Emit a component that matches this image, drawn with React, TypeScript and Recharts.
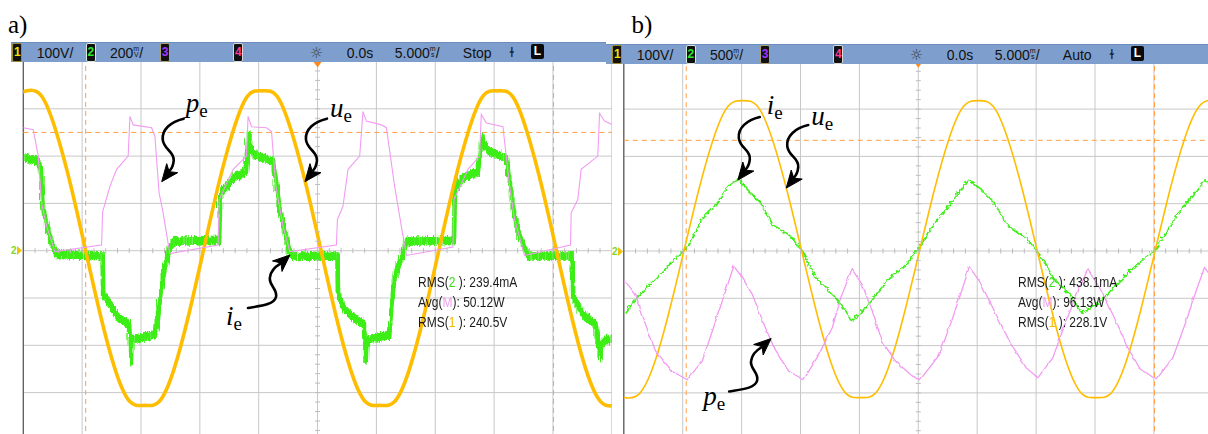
import React from 'react'
import { LineChart, Line, XAxis, YAxis, CartesianGrid, ReferenceLine, ReferenceDot } from 'recharts'

// scope screen: 5 ms/div, trigger at 0, 10 divisions across
const timeTicks = [-25, -20, -15, -10, -5, 0, 5, 10, 15, 20, 25]
// channel 1 at 100 V/div, 8 divisions high
const voltTicks = [-400, -300, -200, -100, 0, 100, 200, 300, 400]

// a) supply voltage u_e (V)
const uaTime = [-25.95, -24.7, -23.45, -22.2, -20.95, -19.7, -18.45, -17.2, -15.95, -14.7, -13.45, -12.2, -10.95, -9.7, -8.45, -7.2, -5.95, -4.7, -3.45, -2.2, -0.95, 0.3, 1.55, 2.8, 4.05, 5.3, 6.55, 7.8, 9.05, 10.3, 11.55, 12.8, 14.05, 15.3, 16.55, 17.8, 19.05, 20.3, 21.55, 22.8, 24.05, 25.3]
const uaVolt = [327, 338, 327, 251, 136, 0, -136, -251, -319, -327, -319, -251, -136, 0, 136, 251, 327, 338, 327, 251, 136, 0, -136, -251, -319, -327, -319, -251, -136, 0, 136, 251, 327, 338, 327, 251, 136, 0, -136, -251, -319, -327]

// a) current i_e (mA), 200 mA/div
const iaTime = [-25, -23.9, -23.6, -23.45, -23.15, -22.75, -22.3, -18.35, -18.3, -17.9, -17.05, -16.1, -15.95, -15.9, -15.85, -13.95, -13.7, -13.4, -13.1, -12.7, -12.25, -8.45, -8.35, -8.0, -7.15, -6.2, -5.9, -5.8, -5.5, -3.9, -3.55, -3.35, -2.95, -2.5, -2.2, 1.6, 1.65, 2.05, 3.0, 3.85, 4.0, 4.05, 4.15, 6.0, 6.25, 6.55, 7.0, 7.4, 7.55, 11.5, 11.6, 12.2, 13.5, 13.9, 14.0, 14.45, 15.9, 16.3, 16.6, 17.0, 17.6, 17.75, 21.5, 21.55, 22.4, 23.5, 23.95, 24.0, 24.4, 25.5]
const iaCurr = [398, 386, 350, 186, 116, 46, -10, -16, -180, -208, -278, -306, -468, -376, -370, -350, -294, -152, -68, 16, 46, 50, 242, 270, 320, 340, 504, 440, 412, 384, 270, 186, 100, 2, -18, -16, -180, -236, -280, -306, -460, -390, -370, -350, -180, -82, -26, 38, 46, 50, 270, 312, 340, 490, 454, 426, 398, 270, 158, 74, 2, -16, -16, -180, -264, -306, -450, -390, -370, -360]

// a) power p_e (W), math channel
const paTime = [-25, -24.15, -23.73, -23.44, -23.02, -22.31, -18.35, -18.26, -17.64, -17.07, -16.09, -15.94, -15.66, -14.1, -13.82, -13.46, -13.12, -12.55, -8.45, -8.36, -7.73, -7.17, -6.04, -5.9, -5.61, -4.34, -3.91, -3.55, -2.93, -2.36, 1.6, 1.69, 2.16, 2.59, 3.58, 3.86, 4.15, 5.42, 5.85, 6.55, 6.98, 7.55, 11.5, 11.59, 12.78, 13.77, 13.91, 14.34, 15.75, 16.32, 16.74, 17.59, 21.49, 21.55, 22.11, 22.4, 23.81, 23.96, 24.38, 25.5]
const paPow = [130, 128, 100, 50, 26, -1, 6, 41, 68, 86, 100, 142, 133, 130, 121, 61, 40, -3, 6, 54, 71, 86, 100, 142, 131, 130, 126, 68, 26, -1, 6, 33, 47, 86, 100, 147, 137, 133, 130, 68, 36, -5, 4, 54, 86, 100, 144, 135, 131, 68, 33, -5, 6, 40, 54, 86, 100, 145, 137, 131]

// b) supply voltage u_e (V)
const ubTime = [-26.15, -24.9, -23.65, -22.4, -21.15, -19.9, -18.65, -17.4, -16.15, -14.9, -13.65, -12.4, -11.15, -9.9, -8.65, -7.4, -6.15, -4.9, -3.65, -2.4, -1.15, 0.1, 1.35, 2.6, 3.85, 5.1, 6.35, 7.6, 8.85, 10.1, 11.35, 12.6, 13.85, 15.1, 16.35, 17.6, 18.85, 20.1, 21.35, 22.6, 23.85, 25.1, 26.35]
const ubVolt = [-301, -310, -301, -237, -128, 0, 128, 237, 306, 318, 306, 237, 128, 0, -128, -237, -301, -310, -301, -237, -128, 0, 128, 237, 306, 318, 306, 237, 128, 0, -128, -237, -301, -310, -301, -237, -128, 0, 128, 237, 306, 318, 306]

// b) current i_e (mA), 500 mA/div
const ibTime = [-25, -24.06, -22.36, -20.98, -19.7, -18.43, -17.3, -16.17, -15.37, -14.75, -13.62, -12.49, -11.08, -9.94, -8.81, -7.39, -6.26, -5.84, -5.14, -4.0, -2.59, -1.17, 0.02, 1.15, 2.56, 4.12, 5.11, 6.24, 7.38, 9.08, 10.2, 11.33, 12.75, 13.74, 15.02, 16.43, 18.12, 20.11, 21.81, 23.22, 24.21, 24.64, 25.2]
const ibCurr = [-640, -485, -270, -95, 65, 365, 505, 715, 785, 680, 540, 295, 185, 10, -270, -445, -625, -730, -660, -485, -270, -130, 65, 295, 505, 770, 680, 540, 295, 150, -25, -270, -445, -640, -555, -375, -165, 45, 395, 610, 770, 715, 700]

// b) power p_e (W)
const pbTime = [-25, -24.09, -23.24, -22.39, -20.98, -19.7, -18.43, -17.58, -16.73, -15.75, -15.03, -14.19, -13.06, -12.21, -11.08, -9.81, -8.53, -7.39, -6.55, -5.7, -4.85, -4.0, -3.15, -2.02, -0.6, 0.08, 1.71, 2.84, 3.69, 4.26, 5.11, 6.24, 7.66, 9.08, 10.06, 11.33, 12.47, 13.6, 14.3, 15.3, 16.43, 17.56, 18.69, 20.11, 21.52, 22.66, 23.51, 24.21, 24.64, 25.2]
const pbPow = [209, 181, 117, 61, 18, 0, 39, 102, 166, 240, 216, 181, 110, 61, 18, 0, 53, 110, 181, 233, 201, 145, 81, 39, 8, 0, 53, 131, 195, 238, 208, 152, 81, 25, 4, 46, 124, 195, 233, 195, 138, 74, 25, 0, 46, 124, 188, 237, 223, 215]

// on-screen measurements
const readA = ['239.4mA', '50.12W', '240.5V']
const readB = ['438.1mA', '96.13W', '228.1V']

const minorT = Array.from({ length: 49 }, (_, k) => -24 + k)
const minorV = Array.from({ length: 39 }, (_, k) => -380 + k * 20)

const zip = (ts: number[], vs: number[], key: string) => ts.map((t, k) => ({ t, [key]: vs[k] }))

const ORANGE = '#ffbd00'
const GREEN = '#3cee16'
const PINK = '#f29bf2'
const CURSOR = '#ff9f45'
const SERIF = "'Liberation Serif', 'Times New Roman', serif"
const SANS = "'Liberation Sans', Arial, sans-serif"

type Note = { t: number; v: number; sym: string; dir: 'down' | 'up'; dx: number; dy: number }

const notesA: Note[] = [
  { t: -13.24, v: 146, sym: 'p', dir: 'down', dx: 24, dy: -70 },
  { t: -1.07, v: 146, sym: 'u', dir: 'down', dx: 25, dy: -65 },
  { t: -2.34, v: -9, sym: 'i', dir: 'up', dx: -64, dy: 70 },
]
const notesB: Note[] = [
  { t: -15.32, v: 150, sym: 'i', dir: 'down', dx: 29, dy: -66 },
  { t: -11.21, v: 133, sym: 'u', dir: 'down', dx: 25, dy: -63 },
  { t: -12.49, v: -185, sym: 'p', dir: 'up', dx: -68, dy: 66 },
]

const noteShape = (n: Note) => (props: any) => {
  const { cx, cy } = props
  const down = n.dir === 'down'
  const shaft = down
    ? 'M22,-63 C9,-60 0,-52 1,-42 C2,-32 13,-30 12,-21 C11.5,-16 10,-13 8,-11'
    : 'M-42,53 C-30,51 -16,50 -14,42 C-12,34 -22,30 -20,22 C-19,16 -15,12 -10,9'
  const head = down ? 'M0,0 L5,-18 L7.5,-10 L16,-9 Z' : 'M0,0 L-8,16.5 L-9,8 L-17.5,6 Z'
  return (
    <g transform={`translate(${cx},${cy})`}>
      <path d={shaft} fill="none" stroke="#000" strokeWidth={2.6} strokeLinecap="round" />
      <path d={head} fill="#000" stroke="#000" strokeWidth={1} strokeLinejoin="round" />
      <text x={n.dx} y={n.dy} fontFamily={SERIF} fontSize={27} fontStyle="italic" fill="#000">
        {n.sym}
        <tspan fontStyle="normal" fontSize={19} dy={5}>e</tspan>
      </text>
    </g>
  )
}

const hTick = (props: any) => (
  <line x1={props.cx} x2={props.cx} y1={props.cy - 2.5} y2={props.cy + 2.5} stroke="#bdbdbd" strokeWidth={1} />
)
const vTick = (props: any) => (
  <line x1={props.cx - 2.5} x2={props.cx + 2.5} y1={props.cy} y2={props.cy} stroke="#bdbdbd" strokeWidth={1} />
)
const trigMark = (props: any) => (
  <path d={`M${props.cx - 5},${props.cy - 1} L${props.cx + 5},${props.cy - 1} L${props.cx},${props.cy + 6} Z`} fill="#ff8a1c" />
)

type ScopeProps = {
  left: number
  width: number
  marginLeft: number
  marginRight: number
  plotTop: number
  u: any[]
  i: any[]
  p: any[]
  iDomain: number[]
  pDomain: number[]
  uWidth: number
  iWidth: number
  pWidth: number
  iFilter: string
  pFilter?: string
  hCursor: number
  notes: Note[]
}

function Scope(s: ScopeProps) {
  const h = 441
  return (
    <div style={{ position: 'absolute', left: s.left, top: 0, width: s.width, height: h, background: '#fff' }}>
      <LineChart
        width={s.width}
        height={h}
        margin={{ top: s.plotTop, right: s.marginRight, bottom: h - s.plotTop - 378.4, left: s.marginLeft }}
      >
        <XAxis type="number" dataKey="t" domain={[-25, 25]} ticks={timeTicks} hide allowDataOverflow />
        <YAxis type="number" domain={[-400, 400]} ticks={voltTicks} hide allowDataOverflow />
        <YAxis yAxisId="i" type="number" domain={s.iDomain} hide allowDataOverflow />
        <YAxis yAxisId="p" type="number" domain={s.pDomain} hide allowDataOverflow />
        <CartesianGrid stroke="#c8c8c8" strokeWidth={1} />
        <ReferenceLine x={-25} stroke="#555" strokeWidth={1.2} />
        {minorT.map((t) => (
          <ReferenceDot key={'mt' + t} x={t} y={0} shape={hTick} ifOverflow="visible" />
        ))}
        {minorV.map((v) => (
          <ReferenceDot key={'mv' + v} x={0} y={v} shape={vTick} ifOverflow="visible" />
        ))}
        <ReferenceLine x={-19.7} stroke={CURSOR} strokeDasharray="5 4" />
        <ReferenceLine x={20.05} stroke={CURSOR} strokeDasharray="5 4" />
        <ReferenceLine y={s.hCursor} stroke={CURSOR} strokeDasharray="5 4" />
        <Line data={s.i} dataKey="i" yAxisId="i" type="linear" stroke={GREEN} strokeWidth={s.iWidth} filter={s.iFilter} dot={false} isAnimationActive={false} />
        <Line data={s.u} dataKey="u" type="natural" stroke={ORANGE} strokeWidth={s.uWidth} dot={false} isAnimationActive={false} />
        <Line data={s.p} dataKey="p" yAxisId="p" type="linear" stroke={PINK} strokeWidth={s.pWidth} filter={s.pFilter} dot={false} isAnimationActive={false} />
        <ReferenceDot x={0} y={400} shape={trigMark} ifOverflow="visible" />
        {s.notes.map((n) => (
          <ReferenceDot key={n.sym} x={n.t} y={n.v} shape={noteShape(n)} ifOverflow="visible" />
        ))}
      </LineChart>
    </div>
  )
}

function ChBox({ x, n, color, edge }: { x: number; n: string; color: string; edge: string }) {
  return (
    <div
      style={{
        position: 'absolute', left: x, top: 0, width: 8, height: 17, background: '#111', borderRadius: 2,
        border: `1px solid ${edge}`, color, fontSize: 12, lineHeight: '17px', textAlign: 'center',
        fontFamily: SANS, fontWeight: 'bold',
      }}
    >
      {n}
    </div>
  )
}

const Stack = ({ a, b }: { a: string; b: string }) => (
  <span style={{ display: 'inline-block', fontSize: 7, lineHeight: '6px', verticalAlign: 'top', marginTop: 3, textAlign: 'center' }}>
    {a}
    <br />
    {b}
  </span>
)

function Header({ barLeft, top, width, plotLeft, ch2, status }: any) {
  const at = (off: number) => plotLeft + off - barLeft
  const txt = (off: number): React.CSSProperties => ({ position: 'absolute', left: at(off), top: 0, lineHeight: '20px' })
  return (
    <div
      style={{
        position: 'absolute', left: barLeft, top, width, height: 20, background: '#7e9fcd',
        borderTop: '1px solid #6c8dbd', boxSizing: 'border-box', fontFamily: SANS, fontSize: 14, color: '#111',
      }}
    >
      <ChBox x={at(-11)} n="1" color="#f2e200" edge="#a08a2a" />
      <span style={txt(13.4)}>100V/</span>
      <ChBox x={at(62.6)} n="2" color="#2ee82e" edge="#d8e8d8" />
      <span style={txt(86.7)}>
        {ch2}
        <Stack a="m" b="V" />/
      </span>
      <ChBox x={at(136.7)} n="3" color="#a236ff" edge="#b0a070" />
      <ChBox x={at(210)} n="4" color="#ff3a96" edge="#d8d8d8" />
      <span style={{ ...txt(286.5), fontFamily: "'DejaVu Sans'", fontSize: 15, color: '#3a3a3a' }}>☼</span>
      <span style={txt(323.5)}>0.0s</span>
      <span style={txt(371.5)}>
        5.000
        <Stack a="m" b="s" />/
      </span>
      <span style={txt(439.5)}>{status}</span>
      <span style={{ ...txt(486), fontFamily: "'DejaVu Sans'", fontSize: 13 }}>ɫ</span>
      <div
        style={{
          position: 'absolute', left: at(507.7), top: 1, width: 13, height: 15, background: '#0a0a0a', borderRadius: 2,
          color: '#fff', fontWeight: 'bold', fontSize: 12, lineHeight: '15px', textAlign: 'center',
        }}
      >
        L
      </div>
    </div>
  )
}

function Readout({ left, vals }: { left: number; vals: string[] }) {
  const rows = [
    { pre: 'RMS(', ch: '2', post: ' ): ', color: '#3cdc1e' },
    { pre: 'Avg(', ch: 'M', post: '): ', color: '#f3a0f3' },
    { pre: 'RMS(', ch: '1', post: ' ): ', color: '#f5b800' },
  ]
  return (
    <div
      style={{
        position: 'absolute', left, top: 272, fontFamily: SANS, fontSize: 15, lineHeight: '20px', color: '#1a1a1a',
        transform: 'scaleX(0.8)', transformOrigin: 'left top', whiteSpace: 'nowrap',
      }}
    >
      {rows.map((r, k) => (
        <div key={k}>
          {r.pre}
          <span style={{ color: r.color }}>{r.ch}</span>
          {r.post}
          {vals[k]}
        </div>
      ))}
    </div>
  )
}

function GroundMark({ left, top }: { left: number; top: number }) {
  return (
    <svg style={{ position: 'absolute', left, top }} width={14} height={16}>
      <text x={1} y={11} fontSize={10} fontFamily={SANS} fontWeight="bold" fill="#7ad82a">2</text>
      <path d="M7,3 L12,7.5 L7,12 Z" fill="#f3c200" />
    </svg>
  )
}

// trace textures: acquisition noise on the current probes
function TraceFilters() {
  return (
    <svg width={0} height={0} style={{ position: 'absolute' }}>
      <defs>
        <filter id="noisyBand" x="-2%" y="-10%" width="104%" height="120%">
          <feTurbulence type="turbulence" baseFrequency="0.9 0.5" numOctaves={2} seed={4} result="n" />
          <feDisplacementMap in="SourceGraphic" in2="n" scale={5} xChannelSelector="R" yChannelSelector="G" result="d" />
          <feMorphology in="d" operator="dilate" radius="0 2.8" />
        </filter>
        <filter id="jaggy" x="-2%" y="-10%" width="104%" height="120%">
          <feTurbulence type="turbulence" baseFrequency="0.22" numOctaves={1} seed={7} result="n" />
          <feDisplacementMap in="SourceGraphic" in2="n" scale={4.5} xChannelSelector="R" yChannelSelector="G" />
        </filter>
        <filter id="jaggyP" x="-2%" y="-10%" width="104%" height="120%">
          <feTurbulence type="turbulence" baseFrequency="0.12" numOctaves={1} seed={11} result="n" />
          <feDisplacementMap in="SourceGraphic" in2="n" scale={2.5} xChannelSelector="R" yChannelSelector="G" />
        </filter>
      </defs>
    </svg>
  )
}

export default function App() {
  const ua = zip(uaTime, uaVolt, 'u')
  const ia = zip(iaTime, iaCurr, 'i')
  const pa = zip(paTime, paPow, 'p')
  const ub = zip(ubTime, ubVolt, 'u')
  const ib = zip(ibTime, ibCurr, 'i')
  const pb = zip(pbTime, pbPow, 'p')
  return (
    <div style={{ position: 'fixed', left: 0, top: 0, width: 1208, height: 434, overflow: 'hidden', background: '#fff' }}>
      <TraceFilters />
      <div style={{ position: 'absolute', top: -19.5, left: 0, fontFamily: SERIF, fontSize: 22, lineHeight: '22px', color: '#000' }}>
        <span style={{ position: 'absolute', left: 496 }}>p</span>
        <span style={{ position: 'absolute', left: 553 }}>y</span>
        <span style={{ position: 'absolute', left: 694 }}>y</span>
      </div>
      <Scope
        left={0} width={612} marginLeft={23.3} marginRight={0.2} plotTop={61.5}
        u={ua} i={ia} p={pa} iDomain={[-800, 800]} pDomain={[-200, 200]}
        uWidth={3.6} iWidth={2.6} pWidth={1.1} iFilter="url(#noisyBand)" hCursor={250} notes={notesA}
      />
      <Scope
        left={612.5} width={601} marginLeft={10.8} marginRight={1.2} plotTop={61.8}
        u={ub} i={ib} p={pb} iDomain={[-2000, 2000]} pDomain={[-130, 670]}
        uWidth={1.6} iWidth={1.6} pWidth={1.3} iFilter="url(#jaggy)" pFilter="url(#jaggyP)" hCursor={234} notes={notesB}
      />
      <Header barLeft={11} top={42} width={595} plotLeft={23.3} ch2="200" status="Stop" />
      <Header barLeft={606} top={44} width={602} plotLeft={623.3} ch2="500" status="Auto" />
      <Readout left={417.7} vals={readA} />
      <Readout left={1018} vals={readB} />
      <GroundMark left={10} top={243} />
      <GroundMark left={611} top={244} />
      <div style={{ position: 'absolute', left: 8, top: 12, fontFamily: SERIF, fontSize: 25, lineHeight: '25px' }}>a)</div>
      <div style={{ position: 'absolute', left: 631.5, top: 12, fontFamily: SERIF, fontSize: 25, lineHeight: '25px' }}>b)</div>
    </div>
  )
}
